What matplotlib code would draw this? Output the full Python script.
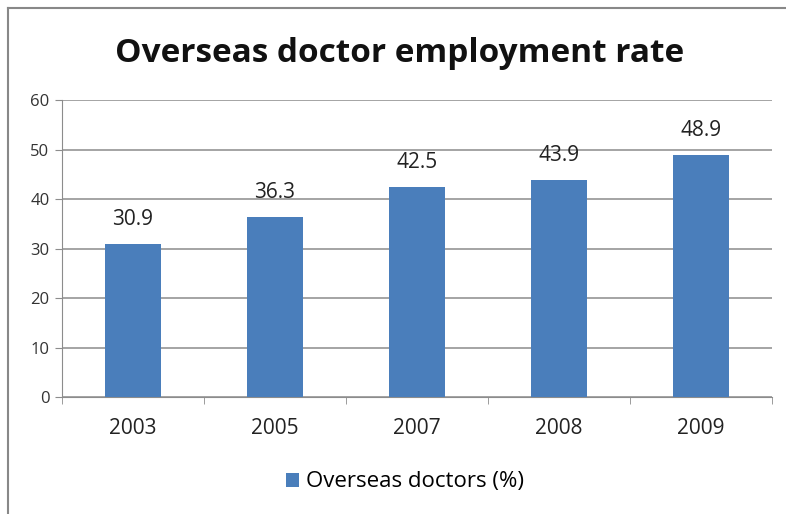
import matplotlib.pyplot as plt
from matplotlib.lines import Line2D
import numpy as np

years = ["2003", "2005", "2007", "2008", "2009"]
rates = [30.9, 36.3, 42.5, 43.9, 48.9]
y_ticks = [0, 10, 20, 30, 40, 50, 60]

plt.rcParams['font.family'] = ['Open Sans', 'DejaVu Sans']

W, H = 786, 514
fig = plt.figure(figsize=(W / 100, H / 100), dpi=100)
ax = fig.add_axes([62 / W, 1 - 397 / H, (772 - 62) / W, (397 - 100) / H])

x = np.arange(len(years))
bars = ax.bar(x, rates, width=0.4, color='#4a7ebb', zorder=3)

ax.set_xlim(-0.5, len(years) - 0.5)
ax.set_ylim(0, 60)
ax.set_yticks(y_ticks)
ax.set_yticklabels([str(v) for v in y_ticks], fontsize=12, color='#333333')
ax.set_xticks(x)
ax.set_xticklabels(years, fontsize=15, color='#222222')
ax.tick_params(axis='x', length=0, pad=15)
ax.tick_params(axis='y', length=5, color='#8c8c8c', pad=4)
# category boundary ticks on the x axis
ax.set_xticks(np.arange(-0.5, len(years)), minor=True)
ax.tick_params(axis='x', which='minor', length=5, color='#8c8c8c')

ax.grid(axis='y', color='#8c8c8c', linewidth=1.1, zorder=0)
for side in ['top', 'right']:
    ax.spines[side].set_visible(False)
ax.spines['left'].set_color('#8c8c8c')
ax.spines['bottom'].set_color('#8c8c8c')

for b, v in zip(bars, rates):
    ax.annotate(f"{v}", (b.get_x() + b.get_width() / 2, v),
                xytext=(0, 10), textcoords='offset points',
                ha='center', va='bottom', fontsize=15, color='#222222')

fig.text(400 / W, 1 - 53 / H, "Overseas doctor employment rate",
         ha='center', va='center', fontsize=24, fontweight='bold', color='#111111')

ax.legend([bars[0]], ["Overseas doctors (%)"], loc='center',
          bbox_to_anchor=(405 / W, 1 - 482 / H), bbox_transform=fig.transFigure,
          frameon=False, fontsize=16, handlelength=0.6, handleheight=0.6,
          handletextpad=0.3)

# chart frame
fig.add_artist(Line2D([8 / W, 8 / W], [0, 1 - 8 / H], transform=fig.transFigure,
                      color='#888888', linewidth=1.5))
fig.add_artist(Line2D([8 / W, 1], [1 - 8 / H, 1 - 8 / H], transform=fig.transFigure,
                      color='#888888', linewidth=1.5))

fig.savefig("out.png", dpi=100)
